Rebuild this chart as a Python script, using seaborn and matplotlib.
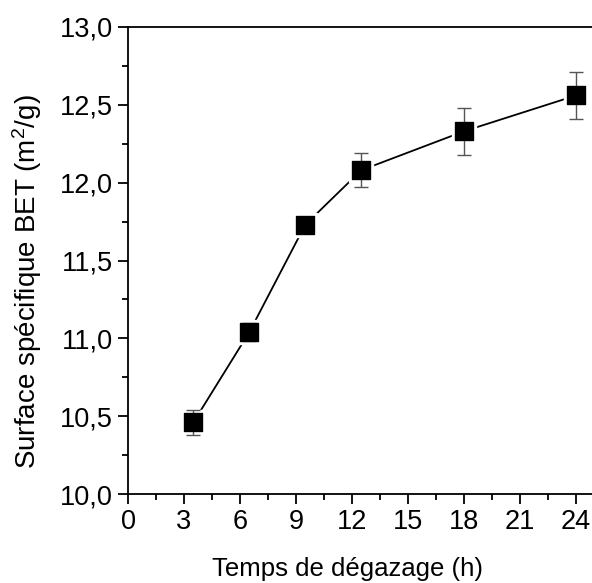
import matplotlib
matplotlib.use("Agg")
import matplotlib.pyplot as plt
import seaborn as sns
import pandas as pd
from matplotlib.ticker import FuncFormatter, MultipleLocator

# Data
temps = [3.5, 6.5, 9.5, 12.5, 18, 24]
surface = [10.46, 11.04, 11.73, 12.08, 12.33, 12.56]
erreur = [0.08, 0.06, 0.02, 0.11, 0.15, 0.15]
xticks = [0, 3, 6, 9, 12, 15, 18, 21, 24]
yticks = [10.0, 10.5, 11.0, 11.5, 12.0, 12.5, 13.0]

df = pd.DataFrame({"t": temps, "s": surface, "e": erreur})

sns.set_style("ticks")
plt.rcParams['font.family'] = ['Liberation Sans', 'DejaVu Sans']
plt.rcParams['mathtext.fontset'] = 'custom'
plt.rcParams['mathtext.rm'] = 'Liberation Sans'
plt.rcParams['mathtext.it'] = 'Liberation Sans:italic'
plt.rcParams['text.color'] = 'black'
plt.rcParams['axes.labelcolor'] = 'black'

fig = plt.figure(figsize=(5.92, 5.83), dpi=100)
ax = fig.add_axes([128/592, 1-494/583, 1-128/592, (494-27)/583])

sns.lineplot(data=df, x="t", y="s", ax=ax, color="black", linewidth=1.3,
             zorder=1, legend=False)
ax.plot(df["t"], df["s"], linestyle="none", marker="s", markersize=17,
        markerfacecolor="white", markeredgecolor="white", zorder=2)
ax.errorbar(df["t"], df["s"], yerr=df["e"], fmt="none", ecolor="#555555",
            elinewidth=1.0, capsize=5, capthick=1.0, zorder=3)
sns.scatterplot(data=df, x="t", y="s", ax=ax, marker="s", s=150,
                color="black", edgecolor="black", zorder=4, legend=False)

ax.set_xlim(0, 24.86)
ax.set_ylim(10.0, 13.0)
ax.set_xticks(xticks)
ax.set_yticks(yticks)
ax.xaxis.set_minor_locator(MultipleLocator(1.5))
ax.yaxis.set_minor_locator(MultipleLocator(0.25))
ax.yaxis.set_major_formatter(FuncFormatter(lambda v, p: f"{v:.1f}".replace(".", ",")))
ax.xaxis.set_major_formatter(FuncFormatter(lambda v, p: f"{int(round(v))}"))

ax.tick_params(axis="both", which="major", direction="out", length=7, width=1.3,
               labelsize=19.5, colors="black", labelcolor="black", pad=4)
ax.tick_params(axis="both", which="minor", direction="out", length=4, width=1.3,
               colors="black")

for side in ["left", "bottom", "top"]:
    ax.spines[side].set_linewidth(1.3)
    ax.spines[side].set_color("black")
ax.spines["right"].set_visible(False)
ax.spines["top"].set_visible(True)

ax.set_xlabel("Temps de dégazage (h)", fontsize=18.5, color="black")
ax.set_ylabel("Surface spécifique BET (m$^2$/g)", fontsize=20, color="black")
ax.yaxis.set_label_coords(-0.182, 0.455)
ax.xaxis.set_label_coords(0.474, -0.135)

fig.savefig("out.png", dpi=100)
